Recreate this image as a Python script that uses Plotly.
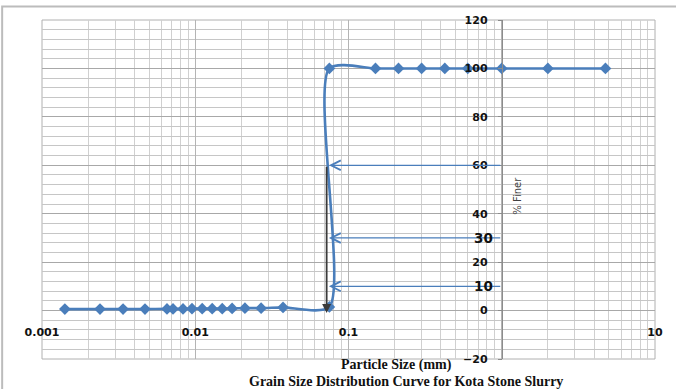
import math
import plotly.graph_objects as go

# ---- data ----
particle_size = [0.00141, 0.00239, 0.00338, 0.0047, 0.00654, 0.00716, 0.00832, 0.00952,
                 0.0111, 0.0129, 0.0150, 0.0174, 0.0211, 0.0269, 0.0374,
                 0.075, 0.075, 0.15, 0.212, 0.3, 0.425, 0.6, 1.0, 2.0, 4.75]
percent_finer = [0.6, 0.6, 0.6, 0.6, 0.7, 0.7, 0.7, 0.8,
                 0.8, 0.8, 0.8, 0.9, 1.0, 1.0, 1.3,
                 1.5, 100, 100, 100, 100, 100, 100, 100, 100, 100]

d_levels = [60, 30, 10]          # D60, D30, D10 guide lines
d_sizes = [0.0745, 0.0745, 0.0745]  # corresponding particle sizes
d_label_levels = [30, 10]        # enlarged labels drawn beside axis
drop_size = 0.072                # vertical guide down to the axis
drop_from, drop_to = 60, -1

x_tickvals = [0.001, 0.01, 0.1, 1, 10]
x_ticktext = ["0.001", "0.01", "0.1", "", "10"]
x_minor = [k * 10 ** n for n in range(-3, 1) for k in range(2, 10)]
y_range = [-20, 120]
x_range_log = [-3, 1]
axis_x_at = 1      # y axis crosses at particle size 1
axis_y_at = 0      # x axis crosses at 0 %

x_title = "Particle Size (mm)"
chart_title = "Grain Size Distribution Curve for Kota Stone Slurry"

blue = "#4a7ebb"

fig = go.Figure()
fig.add_trace(go.Scatter(
    x=particle_size, y=percent_finer, mode="lines+markers",
    line=dict(color=blue, width=2.6, shape="spline", smoothing=0.7),
    marker=dict(symbol="diamond", size=9, color=blue),
    showlegend=False, cliponaxis=False))

annotations = []
for lvl, d in zip(d_levels, d_sizes):
    annotations.append(dict(
        x=math.log10(d), y=lvl, ax=math.log10(axis_x_at), ay=lvl,
        xref="x", yref="y", axref="x", ayref="y", text="",
        showarrow=True, arrowhead=5, arrowsize=1.6, arrowwidth=1.2,
        arrowcolor=blue, standoff=0))
annotations.append(dict(
    x=math.log10(drop_size), y=drop_to, ax=math.log10(drop_size), ay=drop_from,
    xref="x", yref="y", axref="x", ayref="y", text="",
    showarrow=True, arrowhead=2, arrowsize=1.0, arrowwidth=1.8,
    arrowcolor="#3a3a3a", standoff=0))
for lvl in d_label_levels:
    annotations.append(dict(
        x=math.log10(0.755), y=lvl, xref="x", yref="y", text=str(lvl),
        showarrow=False, font=dict(family="DejaVu Sans", size=13.5, color="#111111", weight="bold")))
annotations.append(dict(
    x=0.75, xref="paper", xanchor="left", xshift=8, y=0.5, yref="paper", yshift=-6,
    text="% Finer", textangle=-90, showarrow=False,
    font=dict(family="DejaVu Sans", size=10, color="#404040")))
# x-axis title (center ~ y=365 px) and chart title (center ~ y=381 px)
annotations.append(dict(
    x=0.578, xref="paper", y=-0.018, yref="paper", yanchor="middle",
    text=x_title, showarrow=False,
    font=dict(family="Liberation Serif", size=14, color="#111111", weight="bold")))
annotations.append(dict(
    x=0.593, xref="paper", y=-0.065, yref="paper", yanchor="middle",
    text=chart_title, showarrow=False,
    font=dict(family="Liberation Serif", size=14, color="#111111", weight="bold")))

tick_font = dict(family="DejaVu Sans", size=11, color="#111111", weight="bold")

fig.update_layout(
    width=676, height=389,
    margin=dict(l=42, r=21, t=20, b=30, autoexpand=False),
    paper_bgcolor="white", plot_bgcolor="white",
    annotations=annotations,
    xaxis=dict(
        type="log", range=x_range_log, tickvals=x_tickvals, ticktext=x_ticktext,
        anchor="free", position=(axis_y_at - y_range[0]) / (y_range[1] - y_range[0]),
        showgrid=True, gridcolor="#b4b4b4", gridwidth=1,
        minor=dict(tickvals=x_minor, showgrid=True, gridcolor="#d0d0d0", gridwidth=1),
        showline=False, zeroline=False, ticks="", tickfont=tick_font,
        ticklabelstandoff=13),
    yaxis=dict(
        range=y_range, dtick=20, tick0=0,
        anchor="free", position=(math.log10(axis_x_at) - x_range_log[0]) / (x_range_log[1] - x_range_log[0]),
        showgrid=True, gridcolor="#a8a8a8", gridwidth=1,
        minor=dict(dtick=4, showgrid=True, gridcolor="#c6c6c6", gridwidth=1),
        showline=True, linecolor="#8c8c8c", linewidth=1,
        zeroline=False, ticks="outside", ticklen=4, tickcolor="#8c8c8c",
        tickfont=tick_font, ticklabelstandoff=8),
    shapes=[
        dict(type="rect", xref="x domain", yref="y domain", x0=0, x1=1, y0=0, y1=1,
             line=dict(color="#b0b0b0", width=1), layer="below"),
        dict(type="rect", xref="paper", yref="paper",
             x0=-0.065, x1=1.05, y0=-0.2, y1=1.04,
             line=dict(color="#bcbcbc", width=2), layer="below"),
    ],
)

fig.write_html("out.html")
